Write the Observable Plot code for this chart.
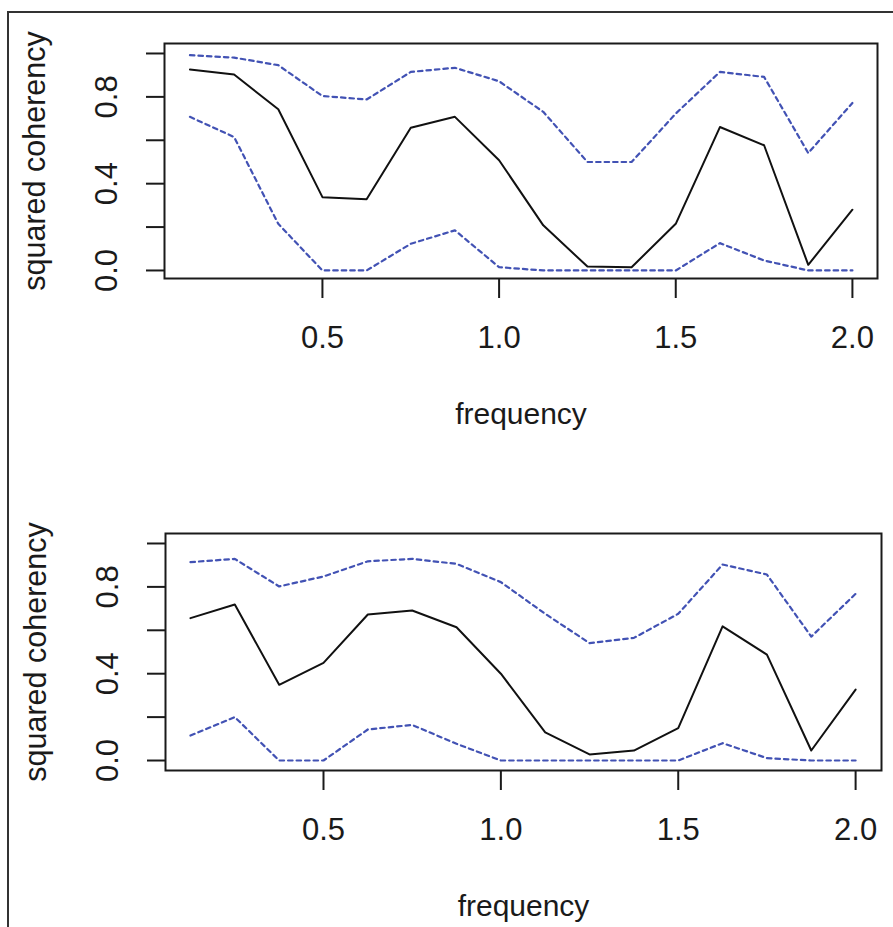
<!DOCTYPE html>
<html>
<head>
<meta charset="utf-8">
<script src="https://cdn.jsdelivr.net/npm/d3@7"></script>
<script src="https://cdn.jsdelivr.net/npm/@observablehq/plot@0.6"></script>
<style>
  html, body { margin: 0; padding: 0; background: #fff; }
  #wrap { position: relative; width: 893px; height: 927px; overflow: hidden; background: #fff; }
  #border { position: absolute; left: 7px; top: 11px; width: 2000px; height: 2000px;
            border-top: 2px solid #333; border-left: 2px solid #333; }
  .panel { position: absolute; left: 0; }
</style>
</head>
<body>
<div id="wrap"><div id="border"></div></div>
<script>
const freq = [0.125,0.25,0.375,0.5,0.625,0.75,0.875,1.0,1.125,1.25,1.375,1.5,1.625,1.75,1.875,2.0];

const cohTop   = [0.926,0.903,0.743,0.338,0.328,0.658,0.708,0.508,0.208,0.018,0.015,0.215,0.661,0.577,0.026,0.280];
const upperTop = [0.992,0.981,0.946,0.804,0.788,0.915,0.934,0.872,0.731,0.500,0.500,0.723,0.915,0.892,0.541,0.772];
const lowerTop = [0.708,0.615,0.215,0.000,0.000,0.123,0.185,0.015,0.000,0.000,0.000,0.000,0.126,0.046,0.000,0.000];

const cohBot   = [0.656,0.719,0.349,0.450,0.673,0.691,0.614,0.400,0.130,0.028,0.046,0.149,0.618,0.488,0.046,0.327];
const upperBot = [0.914,0.929,0.802,0.848,0.918,0.929,0.906,0.822,0.676,0.541,0.565,0.676,0.903,0.857,0.571,0.768];
const lowerBot = [0.115,0.200,0.000,0.000,0.143,0.164,0.077,0.000,0.000,0.000,0.000,0.000,0.080,0.011,0.000,0.000];

const xTicks = [0.5, 1.0, 1.5, 2.0];
const xTickLabels = ["0.5", "1.0", "1.5", "2.0"];
const yTicks = [0, 0.2, 0.4, 0.6, 0.8, 1.0];
const yLabelTicks = [0, 0.4, 0.8];
const yTickLabels = ["0.0", "0.4", "0.8"];
const xTitle = "frequency";
const yTitle = "squared coherency";

const FONT = "'Liberation Sans', Arial, sans-serif";
const BLUE = "#4252b4";
const INK = "#1a1a1a";

function panel({coh, upper, lower, height, marginTop, marginBottom, marginLeft, marginRight, xDomain, yDomain}) {
  const rows = freq.map((f, i) => ({f, coh: coh[i], up: upper[i], lo: lower[i]}));
  return Plot.plot({
    width: 893, height, marginTop, marginBottom, marginLeft, marginRight,
    x: {domain: xDomain, label: null},
    y: {domain: yDomain, label: null},
    style: {fontFamily: FONT, fontSize: "30px", color: INK, background: "transparent", overflow: "visible"},
    marks: [
      Plot.axisX({ticks: xTicks, tickSize: 20, tickFormat: () => "", label: null, strokeWidth: 2, stroke: INK}),
      Plot.axisY({ticks: yTicks, tickSize: 18, tickFormat: () => "", label: null, strokeWidth: 2, stroke: INK}),
      Plot.text(xTicks, {x: d => d, text: (d, i) => xTickLabels[i], frameAnchor: "bottom", dy: 60,
        textAnchor: "middle", lineAnchor: "middle", fontSize: 31, fill: INK}),
      Plot.text(yLabelTicks, {y: d => d, text: (d, i) => yTickLabels[i], frameAnchor: "left", dx: -57, rotate: -90,
        textAnchor: "middle", lineAnchor: "middle", fontSize: 31, fill: INK}),
      Plot.text([xTitle], {text: d => d, frameAnchor: "bottom", dy: 136,
        textAnchor: "middle", lineAnchor: "middle", fontSize: 30, fill: INK}),
      Plot.text([yTitle], {text: d => d, frameAnchor: "left", dx: -129, rotate: -90,
        textAnchor: "middle", lineAnchor: "middle", fontSize: 30.5, fill: INK}),
      Plot.line(rows, {x: "f", y: "up", stroke: BLUE, strokeWidth: 2.2, strokeDasharray: "4.5,4"}),
      Plot.line(rows, {x: "f", y: "lo", stroke: BLUE, strokeWidth: 2.2, strokeDasharray: "4.5,4"}),
      Plot.line(rows, {x: "f", y: "coh", stroke: "#111", strokeWidth: 2}),
      Plot.frame({stroke: INK, strokeWidth: 2})
    ]
  });
}

const topPanel = panel({coh: cohTop, upper: upperTop, lower: lowerTop,
  height: 460, marginTop: 43, marginBottom: 182, marginLeft: 164, marginRight: 16,
  xDomain: [0.053, 2.071], yDomain: [-0.037, 1.046]});
const botPanel = panel({coh: cohBot, upper: upperBot, lower: lowerBot,
  height: 467, marginTop: 73, marginBottom: 157, marginLeft: 165, marginRight: 12,
  xDomain: [0.0546, 2.073], yDomain: [-0.046, 1.046]});

topPanel.classList.add("panel"); topPanel.style.top = "0px";
botPanel.classList.add("panel"); botPanel.style.top = "460px";
const wrap = document.getElementById("wrap");
wrap.appendChild(topPanel);
wrap.appendChild(botPanel);
</script>
</body>
</html>
